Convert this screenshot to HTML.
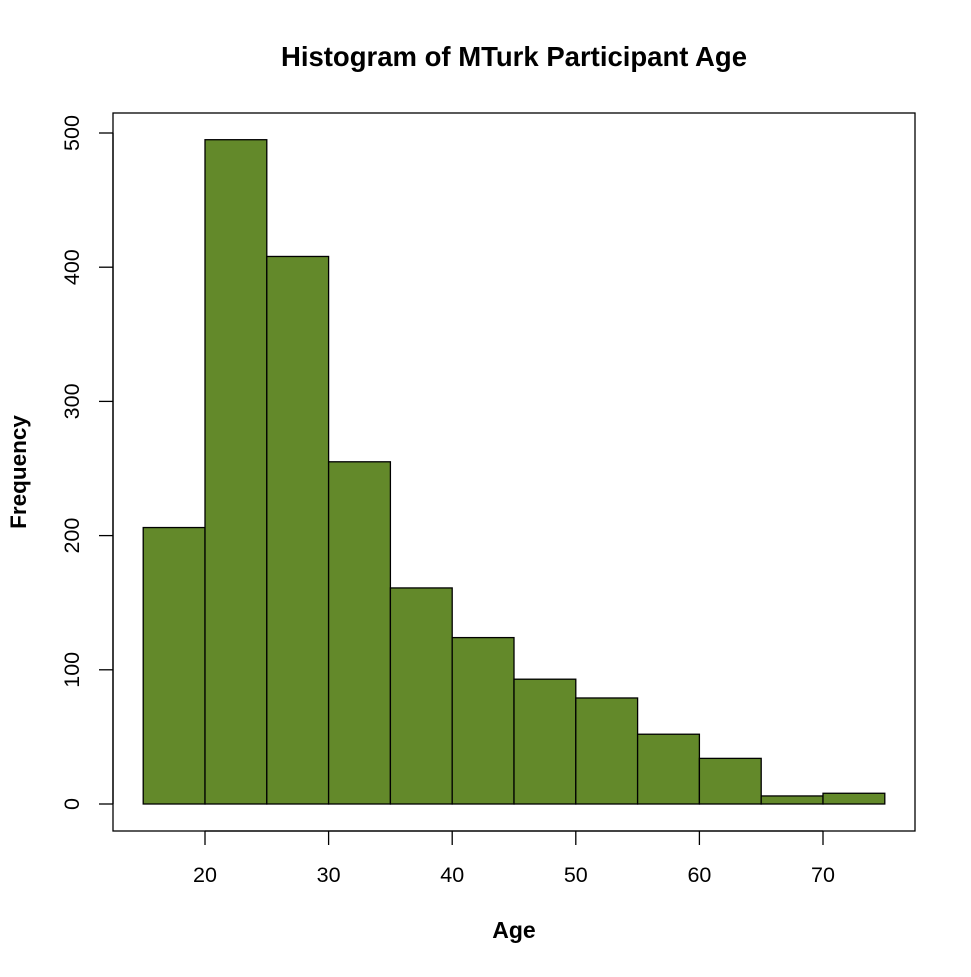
<!DOCTYPE html>
<html><head><meta charset="utf-8"><style>
body{margin:0;background:#fff}
text{font-family:"Liberation Sans",Arial,sans-serif}
</style></head><body>
<svg id="chart" width="971" height="972" xmlns="http://www.w3.org/2000/svg">
<rect width="971" height="972" fill="#fff"/>
<text x="514" y="66" text-anchor="middle" font-size="27.5" font-weight="bold">Histogram of MTurk Participant Age</text>
<text x="514" y="938" text-anchor="middle" font-size="23" font-weight="bold">Age</text>
<text transform="translate(26,472) rotate(-90)" text-anchor="middle" font-size="22.5" font-weight="bold">Frequency</text>
<rect x="113" y="113" width="802" height="718" fill="none" stroke="#000" stroke-width="1.3"/>
<g id="bars"></g><g id="axes"></g>
</svg>
<script>
const binStarts=[15,20,25,30,35,40,45,50,55,60,65,70];
const binWidth=5;
const counts=[206,495,408,255,161,124,93,79,52,34,6,8];
const xTicks=[20,30,40,50,60,70];
const yTicks=[0,100,200,300,400,500];
const NS="http://www.w3.org/2000/svg";
const xs=v=>205+(v-20)*12.36;
const ys=v=>804-v*1.342;
const bars=document.getElementById('bars'),axes=document.getElementById('axes');
function mk(tag,attrs,parent){const e=document.createElementNS(NS,tag);for(const k in attrs)e.setAttribute(k,attrs[k]);parent.appendChild(e);return e;}
counts.forEach((c,i)=>{
 const r=mk('rect',{x:xs(binStarts[i]),y:ys(c),width:xs(binStarts[i]+binWidth)-xs(binStarts[i]),height:ys(0)-ys(c),fill:'#63892a',stroke:'#000','stroke-width':1.3},bars);
 
 
});
const xl=mk('line',{x1:xs(xTicks[0]),x2:xs(xTicks[xTicks.length-1]),y1:831,y2:831,stroke:'#000','stroke-width':1.3},axes);


xTicks.forEach(t=>{
 mk('line',{x1:xs(t),x2:xs(t),y1:831,y2:845,stroke:'#000','stroke-width':1.3},axes);
 const tx=mk('text',{x:xs(t),y:882,'text-anchor':'middle','font-size':21.5},axes);
 tx.textContent=t;
 
 
});
const yl=mk('line',{x1:113,x2:113,y1:ys(yTicks[0]),y2:ys(yTicks[yTicks.length-1]),stroke:'#000','stroke-width':1.3},axes);


yTicks.forEach(t=>{
 mk('line',{x1:99,x2:113,y1:ys(t),y2:ys(t),stroke:'#000','stroke-width':1.3},axes);
 const tx=mk('text',{transform:`translate(79,${ys(t)}) rotate(-90)`,'text-anchor':'middle','font-size':21.5},axes);
 tx.textContent=t;
 
 
});
</script>
</body></html>
